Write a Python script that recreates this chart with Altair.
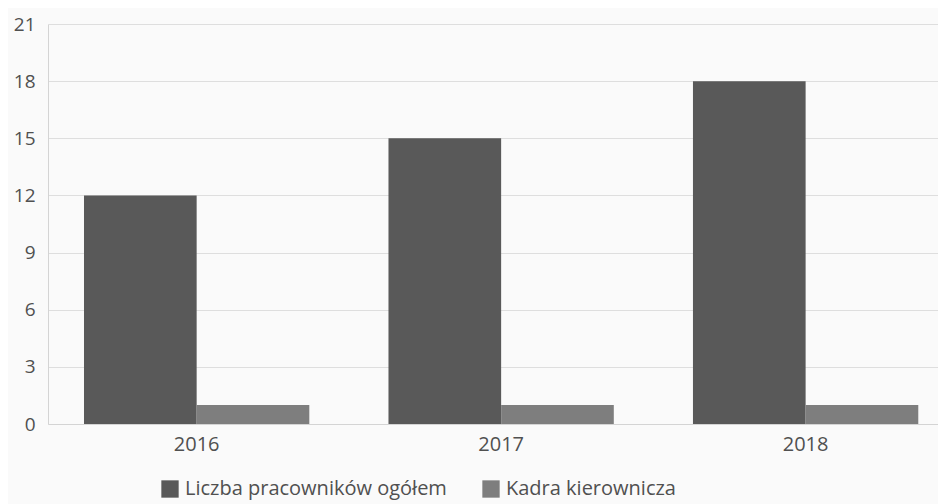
import altair as alt
import pandas as pd

years = ["2016", "2017", "2018"]
series_names = ["Liczba pracowników ogółem", "Kadra kierownicza"]
total_values = [12, 15, 18]
managers_values = [1, 1, 1]
y_ticks = [0, 3, 6, 9, 12, 15, 18, 21]
colors = ["#595959", "#7e7e7e"]

rows = []
for i, yr in enumerate(years):
    rows.append({"year": yr, "series": series_names[0], "value": total_values[i]})
    rows.append({"year": yr, "series": series_names[1], "value": managers_values[i]})
df = pd.DataFrame(rows)

FONT = "Open Sans"

chart = (
    alt.Chart(df)
    .mark_bar()
    .encode(
        x=alt.X(
            "year:N",
            sort=years,
            title=None,
            scale=alt.Scale(paddingInner=0.26, paddingOuter=0.0915, align=0.646),
            axis=alt.Axis(
                labelAngle=0,
                ticks=False,
                domain=True,
                domainColor="#d4d4d4",
                labelPadding=10,
                labelFontSize=20,
                labelColor="#505050",
                labelFont=FONT,
                grid=False,
            ),
        ),
        xOffset=alt.XOffset("series:N", sort=series_names),
        y=alt.Y(
            "value:Q",
            title=None,
            scale=alt.Scale(domain=[0, 21], nice=False),
            axis=alt.Axis(
                values=y_ticks,
                ticks=False,
                domain=True,
                domainColor="#d4d4d4",
                gridColor="#dedede",
                labelPadding=13,
                labelFontSize=19,
                labelColor="#505050",
                labelFont=FONT,
            ),
        ),
        color=alt.Color(
            "series:N",
            sort=series_names,
            scale=alt.Scale(domain=series_names, range=colors),
            legend=alt.Legend(
                title=None,
                orient="none",
                direction="horizontal",
                legendX=112,
                legendY=455,
                symbolType="square",
                symbolSize=300,
                symbolStrokeWidth=0,
                symbolOpacity=1,
                labelFontSize=20,
                labelFont=FONT,
                labelColor="#505050",
                labelLimit=0,
                columnPadding=34,
                labelOffset=5,
            ),
        ),
    )
    .properties(
        width=890,
        height=400,
        padding={"left": 40, "top": 16, "right": 0, "bottom": 80},
        autosize=alt.AutoSizeParams(type="none"),
        background="#fafafa",
    )
    .configure_view(stroke=None)
)

chart.save("out.html", embed_options={"renderer": "svg", "actions": False})
